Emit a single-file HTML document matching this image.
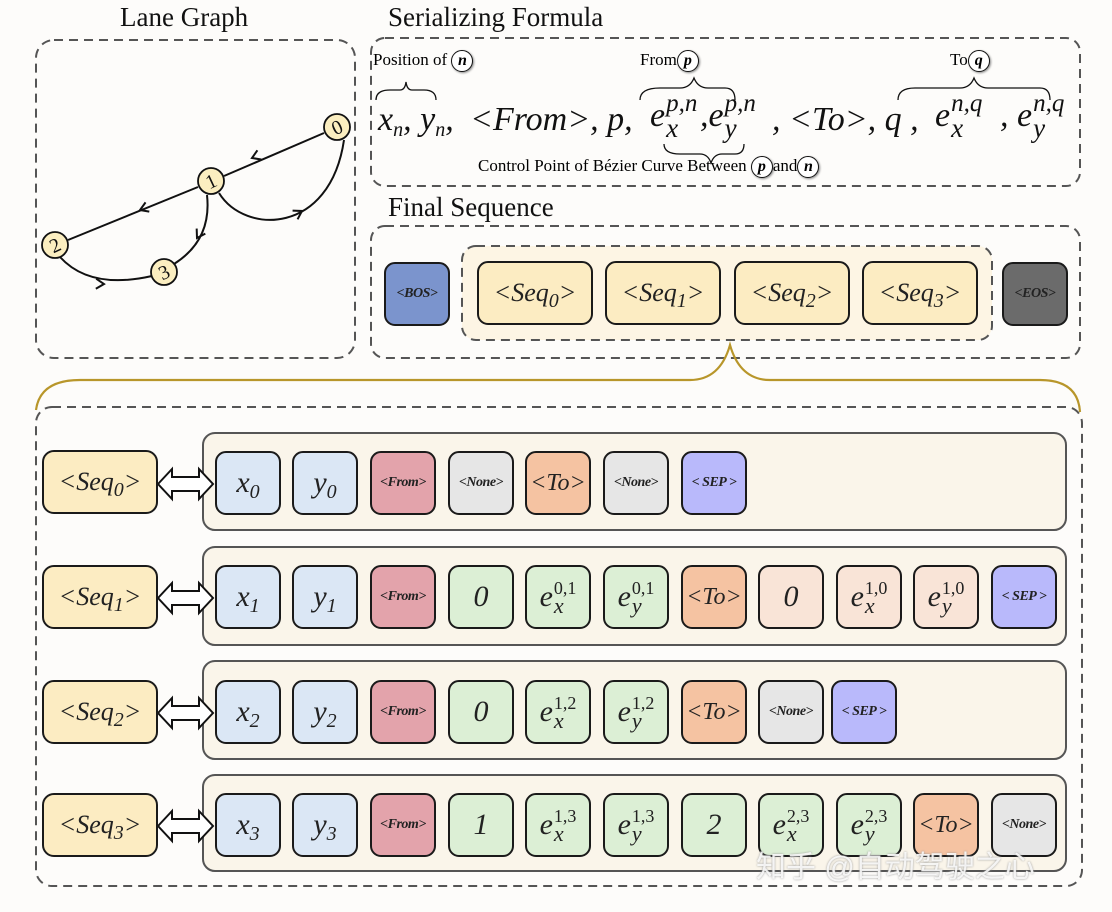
<!DOCTYPE html>
<html><head><meta charset="utf-8"><style>
body{margin:0;width:1112px;height:912px;background:#fdfcfa;position:relative;overflow:hidden;font-family:"Liberation Serif",serif}
.a{position:absolute}
.t{position:absolute;width:62px;height:60px;border:2px solid #1a1a1a;border-radius:11px;display:flex;align-items:center;justify-content:center;font-style:italic;color:#222;font-size:30px;box-sizing:content-box}
.b{background:#dbe7f5}.r{background:#e3a3ab}.g{background:#e6e6e6}.o{background:#f5c3a2}.p{background:#f9e4d7}.gr{background:#dcefd5}.s{background:#b9b9fb}.y{background:#fcecc2}
.sm{font-size:14px;font-weight:bold;letter-spacing:-0.5px}
.e{display:inline-flex;align-items:center}
.sc{display:inline-flex;flex-direction:column;line-height:17px;margin-left:1px}
.sp{font-style:normal;font-size:18px}
.sb{font-size:22px;line-height:18px}
sub{font-size:20px;vertical-align:-6px;line-height:0}
.lab{width:112px;left:42px;font-size:26px;border-radius:12px}
.h{font-size:27px;color:#111}
.c{display:inline-flex;width:20px;height:20px;border:1.5px solid #111;border-radius:50%;align-items:center;justify-content:center;font-style:italic;font-weight:bold;font-size:16px;box-shadow:1px 1px 2px #888;vertical-align:middle;background:#fff}
.f{position:absolute;top:98px;font-size:34px;font-style:italic;white-space:nowrap;line-height:44px;color:#111}
.fe{position:absolute;top:92px;font-size:34px;font-style:italic;white-space:nowrap;color:#111;display:flex;align-items:center}
.fs{display:inline-flex;flex-direction:column;line-height:24px;margin-left:1px}
.fs span:first-child{font-size:25px}.fs span:last-child{font-size:27px}
</style></head><body>
<svg class="a" style="left:0;top:0" width="1112" height="912">
<g fill="none" stroke="#555" stroke-width="2" stroke-dasharray="9 6">
<rect x="36" y="40" width="319" height="318" rx="18"/>
<rect x="371" y="38" width="709" height="148" rx="14"/>
<rect x="371" y="226" width="709" height="132" rx="14"/>
<rect x="462" y="246" width="530" height="94" rx="14" fill="#fdf5e4"/>
<rect x="36" y="407" width="1046" height="479" rx="16"/>
</g>
<g fill="#faf5ea" stroke="#555" stroke-width="2">
<rect x="203" y="433" width="863" height="97" rx="12"/>
<rect x="203" y="547" width="863" height="98" rx="12"/>
<rect x="203" y="661" width="863" height="98" rx="12"/>
<rect x="203" y="775" width="863" height="96" rx="12"/>
</g>
<path d="M36,410 Q40,380 80,380 L690,380 Q720,380 730,345 Q740,380 770,380 L1040,380 Q1078,380 1080,412" fill="none" stroke="#b8962a" stroke-width="2.2"/>
<g fill="none" stroke="#111" stroke-width="2">
<line x1="324" y1="133" x2="224" y2="176"/>
<line x1="198" y1="187" x2="68" y2="240"/>
<path d="M219,193 C245,235 330,235 344,140"/>
<path d="M207,195 Q212,240 174,264"/>
<path d="M60,257 Q90,290 152,276"/>
<g stroke-width="2"><path d="M-8,-5 L0,0 L-8,5" transform="translate(252,158) rotate(157)"/>
<path d="M-8,-5 L0,0 L-8,5" transform="translate(140,210) rotate(158)"/>
<path d="M-8,-5 L0,0 L-8,5" transform="translate(302,211) rotate(-30)"/>
<path d="M-8,-5 L0,0 L-8,5" transform="translate(197,238) rotate(120)"/>
<path d="M-8,-5 L0,0 L-8,5" transform="translate(104,284) rotate(2)"/></g>
</g>
<g fill="#fbeec0" stroke="#111" stroke-width="1.8">
<circle cx="337" cy="127" r="13"/><circle cx="211" cy="181" r="13"/><circle cx="55" cy="245" r="13"/><circle cx="164" cy="272" r="13"/>
</g>
<g font-family="Liberation Serif" font-size="20" text-anchor="middle" fill="#111">
<text x="337" y="134" transform="rotate(-25 337 127)">0</text><text x="211" y="188" transform="rotate(-25 211 181)">1</text><text x="55" y="252" transform="rotate(-25 55 245)">2</text><text x="164" y="279" transform="rotate(-25 164 272)">3</text>
</g>
<g fill="none" stroke="#111" stroke-width="1.3">
<path d="M376,100 Q376,90 390,90 L400,90 Q405,90 406,82 Q407,90 412,90 L424,90 Q436,90 436,100"/>
<path d="M640,100 Q640,88 660,88 L680,88 Q690,88 694,78 Q698,88 708,88 L725,88 Q735,88 735,100"/>
<path d="M898,100 Q898,88 915,88 L960,88 Q970,88 974,78 Q978,88 988,88 L1040,88 Q1050,88 1050,100"/>
<path d="M664,144 Q664,154 680,154 L700,154 Q708,154 711,163 Q714,154 722,154 L735,154 Q744,154 744,144"/>
</g>
<g fill="#fff" stroke="#111" stroke-width="2">
<path d="M158,484 l14,-15 v8 h27 v-8 l14,15 l-14,15 v-8 h-27 v8z"/>
<path d="M158,598 l14,-15 v8 h27 v-8 l14,15 l-14,15 v-8 h-27 v8z"/>
<path d="M158,713 l14,-15 v8 h27 v-8 l14,15 l-14,15 v-8 h-27 v8z"/>
<path d="M158,826 l14,-15 v8 h27 v-8 l14,15 l-14,15 v-8 h-27 v8z"/>
</g>
</svg>
<div class="a h" style="left:120px;top:2px">Lane Graph</div>
<div class="a h" style="left:388px;top:2px">Serializing Formula</div>
<div class="a h" style="left:388px;top:192px">Final Sequence</div>
<div class="a" style="left:373px;top:50px;font-size:17px">Position of <span class="c">n</span></div>
<div class="a" style="left:640px;top:50px;font-size:17px">From<span class="c">p</span></div>
<div class="a" style="left:950px;top:50px;font-size:17px">To<span class="c">q</span></div>
<div class="a" style="left:478px;top:156px;font-size:17px">Control Point of Bézier Curve Between <span class="c">p</span>and<span class="c">n</span></div>

<div class="f" style="left:378px">x<sub>n</sub>, y<sub>n</sub>,</div>
<div class="f" style="left:470px">&lt;From&gt;, p,</div>
<div class="fe" style="left:650px">e<span class="fs"><span>p,n</span><span>x</span></span></div>
<div class="fe" style="left:700px">,e<span class="fs"><span>p,n</span><span>y</span></span></div>
<div class="f" style="left:772px">, &lt;To&gt;, q ,</div>
<div class="fe" style="left:935px">e<span class="fs"><span>n,q</span><span>x</span></span></div>
<div class="fe" style="left:1000px">, e<span class="fs"><span>n,q</span><span>y</span></span></div>

<div class="t" style="left:384px;top:262px;background:#7b94cd"><span class="sm">&lt;BOS&gt;</span></div>
<div class="t y" style="left:477px;top:261px;width:112px;font-size:26px"><span>&lt;Seq<sub>0</sub>&gt;</span></div>
<div class="t y" style="left:605px;top:261px;width:112px;font-size:26px"><span>&lt;Seq<sub>1</sub>&gt;</span></div>
<div class="t y" style="left:734px;top:261px;width:112px;font-size:26px"><span>&lt;Seq<sub>2</sub>&gt;</span></div>
<div class="t y" style="left:862px;top:261px;width:112px;font-size:26px"><span>&lt;Seq<sub>3</sub>&gt;</span></div>
<div class="t" style="left:1002px;top:262px;background:#6b6b6b"><span class="sm">&lt;EOS&gt;</span></div>

<div class="t y lab" style="top:450px"><span>&lt;Seq<sub>0</sub>&gt;</span></div>
<div class="t y lab" style="top:565px"><span>&lt;Seq<sub>1</sub>&gt;</span></div>
<div class="t y lab" style="top:680px"><span>&lt;Seq<sub>2</sub>&gt;</span></div>
<div class="t y lab" style="top:793px"><span>&lt;Seq<sub>3</sub>&gt;</span></div>

<!-- row0 -->
<div class="t b" style="left:215px;top:451px"><span>x<sub>0</sub></span></div>
<div class="t b" style="left:292px;top:451px"><span>y<sub>0</sub></span></div>
<div class="t r" style="left:370px;top:451px"><span class="sm">&lt;From&gt;</span></div>
<div class="t g" style="left:448px;top:451px"><span class="sm">&lt;None&gt;</span></div>
<div class="t o" style="left:525px;top:451px;font-size:24px">&lt;To&gt;</div>
<div class="t g" style="left:603px;top:451px"><span class="sm">&lt;None&gt;</span></div>
<div class="t s" style="left:681px;top:451px"><span class="sm">&lt; SEP &gt;</span></div>
<!-- row1 -->
<div class="t b" style="left:215px;top:565px"><span>x<sub>1</sub></span></div>
<div class="t b" style="left:292px;top:565px"><span>y<sub>1</sub></span></div>
<div class="t r" style="left:370px;top:565px"><span class="sm">&lt;From&gt;</span></div>
<div class="t gr" style="left:448px;top:565px">0</div>
<div class="t gr" style="left:525px;top:565px"><span class="e">e<span class="sc"><span class="sp">0,1</span><span class="sb">x</span></span></span></div>
<div class="t gr" style="left:603px;top:565px"><span class="e">e<span class="sc"><span class="sp">0,1</span><span class="sb">y</span></span></span></div>
<div class="t o" style="left:681px;top:565px;font-size:24px">&lt;To&gt;</div>
<div class="t p" style="left:758px;top:565px">0</div>
<div class="t p" style="left:836px;top:565px"><span class="e">e<span class="sc"><span class="sp">1,0</span><span class="sb">x</span></span></span></div>
<div class="t p" style="left:913px;top:565px"><span class="e">e<span class="sc"><span class="sp">1,0</span><span class="sb">y</span></span></span></div>
<div class="t s" style="left:991px;top:565px"><span class="sm">&lt; SEP &gt;</span></div>
<!-- row2 -->
<div class="t b" style="left:215px;top:680px"><span>x<sub>2</sub></span></div>
<div class="t b" style="left:292px;top:680px"><span>y<sub>2</sub></span></div>
<div class="t r" style="left:370px;top:680px"><span class="sm">&lt;From&gt;</span></div>
<div class="t gr" style="left:448px;top:680px">0</div>
<div class="t gr" style="left:525px;top:680px"><span class="e">e<span class="sc"><span class="sp">1,2</span><span class="sb">x</span></span></span></div>
<div class="t gr" style="left:603px;top:680px"><span class="e">e<span class="sc"><span class="sp">1,2</span><span class="sb">y</span></span></span></div>
<div class="t o" style="left:681px;top:680px;font-size:24px">&lt;To&gt;</div>
<div class="t g" style="left:758px;top:680px"><span class="sm">&lt;None&gt;</span></div>
<div class="t s" style="left:831px;top:680px"><span class="sm">&lt; SEP &gt;</span></div>
<!-- row3 -->
<div class="t b" style="left:215px;top:793px"><span>x<sub>3</sub></span></div>
<div class="t b" style="left:292px;top:793px"><span>y<sub>3</sub></span></div>
<div class="t r" style="left:370px;top:793px"><span class="sm">&lt;From&gt;</span></div>
<div class="t gr" style="left:448px;top:793px">1</div>
<div class="t gr" style="left:525px;top:793px"><span class="e">e<span class="sc"><span class="sp">1,3</span><span class="sb">x</span></span></span></div>
<div class="t gr" style="left:603px;top:793px"><span class="e">e<span class="sc"><span class="sp">1,3</span><span class="sb">y</span></span></span></div>
<div class="t gr" style="left:681px;top:793px">2</div>
<div class="t gr" style="left:758px;top:793px"><span class="e">e<span class="sc"><span class="sp">2,3</span><span class="sb">x</span></span></span></div>
<div class="t gr" style="left:836px;top:793px"><span class="e">e<span class="sc"><span class="sp">2,3</span><span class="sb">y</span></span></span></div>
<div class="t o" style="left:913px;top:793px;font-size:24px">&lt;To&gt;</div>
<div class="t g" style="left:991px;top:793px"><span class="sm">&lt;None&gt;</span></div>

<div class="a" style="left:756px;top:842px;font-family:'Liberation Sans','Noto Sans CJK SC',sans-serif;font-size:30px;color:rgba(255,255,255,0.85);text-shadow:0 0 2px #999">知乎 @自动驾驶之心</div>
</body></html>
